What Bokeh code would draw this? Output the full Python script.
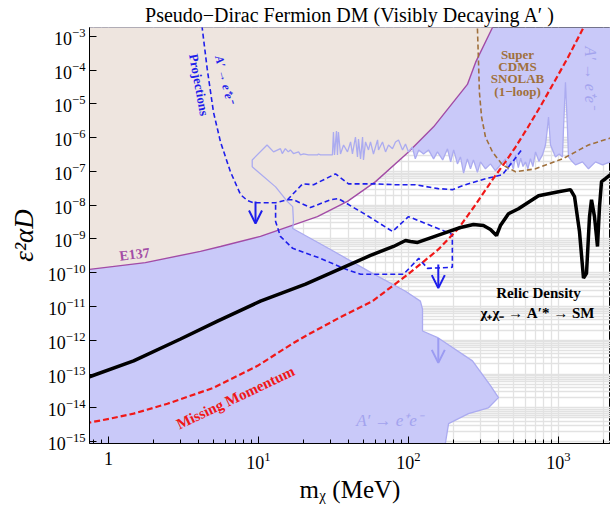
from bokeh.plotting import figure
from bokeh.models import Range1d, FixedTicker, LogTickFormatter, Label, Arrow, OpenHead
from bokeh.embed import file_html
from bokeh.resources import INLINE

# ---------------- data ----------------
x_major = [1, 10, 100, 1000]
y_major = [1e-15, 1e-14, 1e-13, 1e-12, 1e-11, 1e-10, 1e-9, 1e-8, 1e-7, 1e-6, 1e-5, 1e-4, 1e-3]

# E137 boundary (excluded above)
e137_m = [0.5, 0.747, 1.76, 4.1, 5.58, 10.3, 24.7, 39.2, 60.3, 100, 147, 247, 280, 363, 400]
e137_y = [1.0e-10, 1.26e-10, 2.0e-10, 4.3e-10, 6.0e-10, 1.2e-9, 4.6e-9, 1.3e-8, 5.0e-8, 3.8e-7,
          2.1e-6, 3.8e-5, 1.7e-4, 1.84e-3, 1e-1]

# A' -> e+e- existing limits: collider lower edge (noisy)
noise_m = [11.4, 12.6, 14.0, 14.4, 15.1, 15.8, 16.3, 17.1, 18.5, 19.05, 20.0, 21.5, 24.7, 25.1, 25.9,
           31.1, 31.6, 32.1, 33.1, 33.6, 34.1, 35.2, 36.9, 39.2, 41.1, 42.3, 44.3, 45.7, 46.4, 47.9,
           49.4, 50.1, 51.7, 54.1, 55.8, 58.4, 62.2, 63.1, 67.1, 70.3, 73.6, 78.2, 81.9, 85.8, 91.2,
           95.5, 100, 106, 111, 117, 126, 136, 147, 156, 169, 182, 191, 200, 212, 222, 233, 247, 259,
           271, 288, 302, 326, 352, 380, 410, 443, 460, 480, 500, 517, 540, 560, 580, 603, 625, 650,
           675, 703, 740, 782, 819, 840, 858, 872, 885, 955, 1010, 1063, 1080, 1113, 1148, 1166,
           1230, 1298, 1445, 1585, 1766, 1964, 2222, 2400]
noise_y = [6.1e-7, 3.8e-7, 4.75e-7, 3.4e-7, 4.75e-7, 3.8e-7, 4.35e-7, 3.4e-7, 3.8e-7, 3.1e-7, 3.3e-7,
           3.1e-7, 3.1e-7, 3.3e-7, 3.1e-7, 3.1e-7, 1.48e-6, 3.1e-7, 1.58e-6, 3.1e-7, 1.48e-6, 3.3e-7,
           6.1e-7, 3.8e-7, 7.5e-7, 3.3e-7, 1.05e-6, 2.7e-7, 9.2e-7, 2.36e-7, 1.05e-6, 2.2e-7, 7.5e-7,
           4.35e-7, 7.5e-7, 3.3e-7, 8.6e-7, 4.35e-7, 7.5e-7, 3.8e-7, 6.1e-7, 4.7e-7, 7.5e-7, 8.6e-7,
           4.35e-7, 6.5e-7, 3.8e-7, 5.3e-7, 2.36e-7, 4.35e-7, 3.3e-7, 4.35e-7, 2.36e-7, 3.8e-7, 2.2e-7,
           4.7e-7, 1.93e-7, 4.35e-7, 1.68e-7, 2.7e-7, 9.0e-8, 2.36e-7, 1.2e-7, 2.2e-7, 9.5e-8, 1.93e-7,
           1.2e-7, 1.68e-7, 1.05e-7, 1.57e-7, 2.36e-7, 1.1e-7, 2.0e-7, 1.2e-7, 3.1e-7, 1.3e-7, 2.5e-7,
           1.4e-7, 1.93e-7, 1.2e-7, 2.4e-7, 1.4e-7, 3.8e-7, 2.0e-7, 3.1e-7, 6.1e-7, 1.6e-6, 4.1e-6,
           1.5e-6, 6.1e-7, 2.7e-7, 3.3e-7, 2.7e-7, 1.8e-6, 4.4e-5, 1.8e-6, 2.7e-7, 2.0e-7, 1.57e-7,
           1.93e-7, 1.2e-7, 1.93e-7, 1.57e-7, 1.93e-7, 1.7e-7]

# A' -> e+e- existing limits: beam-dump edge
dump_m = [9.08, 9.08, 13.0, 15.6, 16.9, 17.1, 16.9, 30.2, 57.5, 95.5, 120, 124, 124, 158, 267, 352,
          398, 341, 251, 185, 176, 176]
dump_y = [2.2e-7, 1.37e-7, 3.5e-8, 1.28e-8, 9.1e-9, 3.3e-9, 2.04e-9, 4.9e-10, 9.6e-11, 2.84e-11,
          1.44e-11, 8.4e-12, 1.88e-12, 1.17e-12, 2.45e-13, 4.5e-14, 2.0e-14, 1.0e-14, 6.7e-15,
          3.4e-15, 8.7e-16, 1e-17]

# A' -> e+e- projections (dashed blue)
proj_a_m = [4.17, 4.21, 4.55, 5.01, 5.58, 6.5, 7.59, 8.45, 9.26, 13.0, 15.6, 19.7, 23.3, 32.6, 39.8,
            60.3, 81.9, 111, 158, 196, 240, 326, 423, 494, 575]
proj_a_y = [3.6e-3, 1.84e-3, 1.09e-4, 5.7e-6, 7.5e-7, 9.8e-8, 2.06e-8, 1.37e-8, 1.19e-8, 1.19e-8,
            1.46e-8, 4.3e-8, 4.05e-8, 8.5e-8, 4.3e-8, 4.3e-8, 4.05e-8, 4.05e-8, 3.1e-8, 2.9e-8,
            4.05e-8, 6.1e-8, 8.0e-8, 1.93e-7, 4.7e-7]
proj_b_m = [15.6, 17.1, 22.2, 30.2, 34.1, 51.7, 78.2, 100, 176, 196, 196, 134, 117, 92.6, 47.9,
            36.9, 25.9, 16.9, 14.0, 13.0, 13.0]
proj_b_y = [1.46e-8, 1.46e-8, 8.5e-9, 1.46e-8, 1.57e-8, 5.3e-9, 1.67e-9, 4.6e-9, 1.67e-9, 1.36e-9,
            1.45e-10, 1.35e-10, 2.67e-10, 9.0e-11, 9.0e-11, 1.35e-10, 2.67e-10, 5.3e-10, 1.19e-9,
            3.3e-9, 1.19e-8]

# Missing momentum projection (dashed red)
mm_m = [0.7, 0.747, 1.03, 1.47, 2.47, 5.01, 9.85, 17.1, 20.6, 34.1, 57.5, 95.5, 122, 158, 215, 280,
        363, 443, 517, 621, 759, 926, 1148, 1445, 1634]
mm_y = [3.55e-15, 3.64e-15, 4.8e-15, 6.7e-15, 1.32e-14, 3.9e-14, 1.75e-13, 8.3e-13, 1.34e-12,
        4.5e-12, 1.44e-11, 7.9e-11, 1.9e-10, 4.9e-10, 2.04e-9, 1.04e-8, 5.7e-8, 1.93e-7, 5.3e-7,
        1.94e-6, 8.6e-6, 4.1e-5, 2.25e-4, 1.6e-3, 4.5e-3]

# Relic density target (black)
relic_m = [0.7, 0.747, 1.47, 3.02, 5.33, 10.3, 20.6, 55.8, 79.4, 95.5, 103, 115, 171, 222, 271, 316,
           352, 386, 410, 464, 541, 736, 1000, 1202, 1279, 1380, 1468, 1537, 1610, 1660, 1738, 1820,
           1877, 1936, 2056, 2222, 2400]
relic_y = [7.5e-14, 8.3e-14, 2.45e-13, 1.09e-12, 3.7e-12, 1.44e-11, 4.6e-11, 3.27e-10, 6.0e-10,
           9.0e-10, 8.4e-10, 7.9e-10, 1.46e-9, 2.19e-9, 2.7e-9, 2.5e-9, 1.91e-9, 1.27e-9, 2.5e-9,
           5.6e-9, 7.9e-9, 1.92e-8, 2.52e-8, 2.9e-8, 1.8e-8, 1.67e-9, 6.9e-11, 9.6e-11, 4.6e-9,
           1.46e-8, 4.6e-9, 6.0e-10, 9.1e-9, 5.0e-8, 6.1e-8, 8.0e-8, 9.8e-8]

# SuperCDMS SNOLAB (1-loop) projection (dashed brown)
cdms_m = [284, 288, 293, 297, 307, 326, 363, 423, 517, 703, 1063, 1585, 2222, 2590]
cdms_y = [5.1e-3, 1.84e-3, 1.71e-4, 2.23e-5, 4.1e-6, 1.05e-6, 3.8e-7, 1.57e-7, 9.8e-8, 1.2e-7,
          2.36e-7, 6.1e-7, 9.8e-7, 1.29e-6]

# downward arrows
arrow_m = [9.55, 158, 158]
arrow_y0 = [1.28e-8, 1.77e-10, 1.17e-12]
arrow_y1 = [2.87e-9, 3.5e-11, 2.14e-13]

# in-plot labels: text, mass, value, size, colour, style, angle
labels = [
    ("E137", 1.49, 3.5e-10, "14px", "#A24CA6", "bold", 0.12),
    ("Missing Momentum", 7.03, 2.0e-14, "15px", "#F01818", "bold", 0.44),
    ("Projections", 4.01, 3.7e-5, "13px", "#1E1EEB", "bold", -1.39),
    ("A\u2032 \u2192 e\u207ae\u207b", 5.94, 5.4e-5, "12px", "#1E1EEB", "bold italic", -1.33),
    ("A\u2032 \u2192 e\u207ae\u207b", 1634, 6.2e-5, "16px", "#A3A3EE", "italic", -1.5708),
    ("A\u2032 \u2192 e\u207ae\u207b", 74.7, 4.2e-15, "17px", "#A3A3EE", "italic", 0.0),
    ("Super", 533, 2.94e-4, "13px", "#A0703C", "bold", 0.0),
    ("CDMS", 533, 1.31e-4, "13px", "#A0703C", "bold", 0.0),
    ("SNOLAB", 533, 5.8e-5, "13px", "#A0703C", "bold", 0.0),
    ("(1\u2212loop)", 533, 2.39e-5, "13px", "#A0703C", "bold", 0.0),
    ("Relic Density", 736, 2.48e-11, "15px", "black", "bold", 0.0),
    ("\u03c7\u208a\u03c7\u208b \u2192 A\u2032* \u2192 SM", 724, 6.37e-12, "15px", "black", "bold", 0.0),
]

# ---------------- styles ----------------
SERIF = "Liberation Serif"
BLUE_FILL = "#C9C9F9"
BLUE_EDGE = "#ABABF0"
BEIGE = "#EEE5DF"

x_minor = [k * d for d in [0.1, 1, 10, 100, 1000] for k in range(2, 10)]
y_minor = [k * d for d in [1e-16, 1e-15, 1e-14, 1e-13, 1e-12, 1e-11, 1e-10, 1e-9, 1e-8, 1e-7,
                           1e-6, 1e-5, 1e-4, 1e-3] for k in range(2, 10)]

p = figure(width=610, height=508, x_axis_type="log", y_axis_type="log",
           x_range=Range1d(0.7468, 2222), y_range=Range1d(10 ** -15.058, 10 ** -2.735),
           output_backend="svg", toolbar_location=None,
           title="Pseudo\u2212Dirac Fermion DM (Visibly Decaying A\u2032 )",
           x_axis_label="m\u1d6a (MeV)", y_axis_label="\u03b5\u00b2\u03b1D",
           min_border_left=89, min_border_right=0, min_border_top=25, min_border_bottom=65)
p.background_fill_color = "white"
p.border_fill_color = "white"
p.outline_line_color = "black"
p.outline_line_width = 1

p.title.text_font = SERIF
p.title.text_font_size = "20px"
p.title.text_font_style = "normal"
p.title.text_color = "black"
p.title.align = "center"
p.title.standoff = 3
p.title.offset = 0

xt = FixedTicker(ticks=x_major, minor_ticks=x_minor)
yt = FixedTicker(ticks=y_major, minor_ticks=y_minor)
p.xaxis.ticker = xt
p.yaxis.ticker = yt
p.xgrid.ticker = xt
p.ygrid.ticker = yt
p.xaxis.formatter = LogTickFormatter(min_exponent=1)
p.yaxis.formatter = LogTickFormatter()
for ax in (p.xaxis, p.yaxis):
    ax.major_label_text_font = SERIF
    ax.major_label_text_font_size = "18px"
    ax.major_label_text_color = "black"
    ax.axis_line_color = "black"
    ax.major_tick_in = 7
    ax.major_tick_out = 0
    ax.minor_tick_in = 4
    ax.minor_tick_out = 0
    ax.major_tick_line_color = "black"
    ax.axis_label_text_font = SERIF
    ax.axis_label_text_color = "black"
p.xaxis.minor_tick_line_color = "black"
p.yaxis.minor_tick_line_color = None
p.xaxis.major_label_standoff = 8
p.yaxis.major_label_standoff = 4
p.xaxis.axis_label_text_font_size = "25px"
p.xaxis.axis_label_text_font_style = "normal"
p.xaxis.axis_label_standoff = 4
p.yaxis.axis_label_text_font_size = "27px"
p.yaxis.axis_label_text_font_style = "italic"
p.yaxis.axis_label_standoff = 6
for g in (p.xgrid, p.ygrid):
    g.grid_line_color = "#E2E2E2"
    g.minor_grid_line_color = "#E2E2E2"
    g.grid_line_width = 1.3
    g.minor_grid_line_width = 1.3

# blue excluded region (A' -> e+e-)
edge_m = noise_m[::-1] + dump_m
edge_y = noise_y[::-1] + dump_y
blue_m = edge_m + [0.3, 0.3, 5000, 5000]
blue_y = edge_y + [1e-17, 1.0, 1.0, noise_y[-1]]
p.patch(blue_m, blue_y, fill_color=BLUE_FILL, line_color=None)

# E137 region
p.patch(e137_m + [0.3], e137_y + [1.0], fill_color=BEIGE, line_color=None)
p.line(e137_m, e137_y, line_color="#A24CA6", line_width=1.4)

# outline of the blue region
p.line(edge_m, edge_y, line_color=BLUE_EDGE, line_width=1.3)

# projections
p.line(proj_a_m, proj_a_y, line_color="#1E1EEB", line_width=1.6, line_dash="5 3")
p.line(proj_b_m, proj_b_y, line_color="#1E1EEB", line_width=1.6, line_dash="5 3")
p.line(cdms_m, cdms_y, line_color="#A0703C", line_width=1.6, line_dash="5 3")
p.line(mm_m, mm_y, line_color="#F01818", line_width=2.2, line_dash="6 3")
p.line(relic_m, relic_y, line_color="black", line_width=3.5)

arrow_colors = ["#1E1EEB", "#1E1EEB", "#9C9CF2"]
for xm, y0, y1, c in zip(arrow_m, arrow_y0, arrow_y1, arrow_colors):
    p.add_layout(Arrow(end=OpenHead(size=13, line_color=c, line_width=2),
                       x_start=xm, y_start=y0, x_end=xm, y_end=y1,
                       line_color=c, line_width=2))

for txt, xm, yv, size, col, style, ang in labels:
    p.add_layout(Label(x=xm, y=yv, text=txt, text_font=SERIF, text_font_size=size,
                       text_color=col, text_font_style=style, angle=ang,
                       text_align="center", text_baseline="middle"))

open("out.html", "w").write(file_html(p, INLINE))
